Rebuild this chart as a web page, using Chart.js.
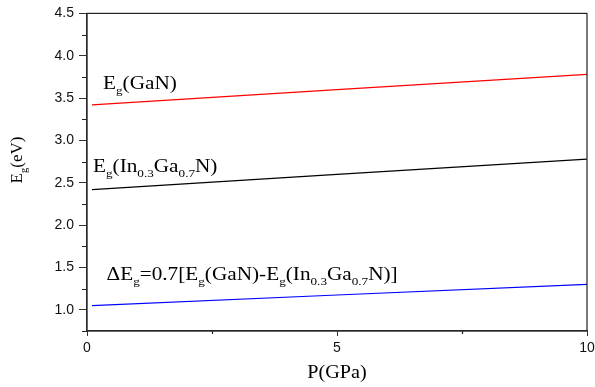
<!DOCTYPE html>
<html>
<head>
<meta charset="utf-8">
<script src="https://cdn.jsdelivr.net/npm/chart.js@4.4.0/dist/chart.umd.min.js"></script>
<style>
  html, body { margin: 0; padding: 0; background: #fff; }
  #wrap { width: 595px; height: 387px; }
</style>
</head>
<body>
<div id="wrap"><canvas id="myChart" width="595" height="387"></canvas></div>
<script>
// valeurs
const pressure = [0.1, 5, 10];
const egGaN = [3.42, 3.60, 3.78];
const egInGaN = [2.42, 2.60, 2.78];
const deltaEg = [1.05, 1.175, 1.30];

const xTicks = [0, 5, 10];
const yTicks = [1.0, 1.5, 2.0, 2.5, 3.0, 3.5, 4.0, 4.5];

const serif = "'Liberation Serif', 'Times New Roman', serif";
const sans = "'Liberation Sans', Arial, sans-serif";
const stretch = 1.18; // le texte de l'original est un peu étiré

function pts(ys) {
  return pressure.map((p, i) => ({ x: p, y: ys[i] }));
}

// texte avec indices (parts: [texte, estIndice])
function drawRich(ctx, parts, x, y, size) {
  let cx = x;
  parts.forEach(([t, sub]) => {
    const s = sub ? size * 0.62 : size;
    ctx.font = s + 'px ' + serif;
    ctx.fillText(t, cx, sub ? y + size * 0.28 : y);
    cx += ctx.measureText(t).width;
  });
  return cx - x;
}
function richWidth(ctx, parts, size) {
  let w = 0;
  parts.forEach(([t, sub]) => {
    ctx.font = (sub ? size * 0.62 : size) + 'px ' + serif;
    w += ctx.measureText(t).width;
  });
  return w;
}

const labels = [
  { x: 0.32, y: 3.605, parts: [['E'], ['g', 1], ['(GaN)']] },
  { x: 0.12, y: 2.628, parts: [['E'], ['g', 1], ['(In'], ['0.3', 1], ['Ga'], ['0.7', 1], ['N)']] },
  { x: 0.39, y: 1.357, parts: [['\u0394E'], ['g', 1], ['=0.7[E'], ['g', 1], ['(GaN)-E'], ['g', 1], ['(In'], ['0.3', 1], ['Ga'], ['0.7', 1], ['N)]']] }
];

const decor = {
  id: 'decor',
  afterDraw(chart) {
    const ctx = chart.ctx;
    const a = chart.chartArea;
    const xs = chart.scales.x, ys = chart.scales.y;
    ctx.save();
    // cadre
    ctx.strokeStyle = '#222';
    ctx.lineWidth = 1.2;
    ctx.strokeRect(a.left, a.top, a.right - a.left, a.bottom - a.top);
    // graduations mineures
    ctx.beginPath();
    for (let v = 0.75; v <= 4.5; v += 0.5) {
      const py = Math.round(ys.getPixelForValue(v)) + 0.5;
      ctx.moveTo(a.left - 5, py); ctx.lineTo(a.left, py);
    }
    [2.5, 7.5].forEach(v => {
      const px = Math.round(xs.getPixelForValue(v)) + 0.5;
      ctx.moveTo(px, a.bottom); ctx.lineTo(px, a.bottom + 3);
    });
    ctx.stroke();
    // annotations
    ctx.fillStyle = '#000';
    ctx.textBaseline = 'alphabetic';
    labels.forEach(l => {
      const px = xs.getPixelForValue(l.x), py = ys.getPixelForValue(l.y);
      ctx.save();
      ctx.translate(px, py);
      ctx.scale(stretch, 1);
      drawRich(ctx, l.parts, 0, 0, 18);
      ctx.restore();
    });
    // titre axe x
    ctx.save();
    ctx.font = '18px ' + serif;
    ctx.textAlign = 'center';
    ctx.translate((a.left + a.right) / 2, 378);
    ctx.scale(1.12, 1);
    ctx.fillText('P(GPa)', 0, 0);
    ctx.restore();
    // titre axe y
    const yt = [['E'], ['g', 1], ['(eV)']];
    const w = richWidth(ctx, yt, 17);
    ctx.translate(22, 160);
    ctx.rotate(-Math.PI / 2);
    drawRich(ctx, yt, -w / 2, 0, 17);
    ctx.restore();
  }
};

const ctx = document.getElementById('myChart').getContext('2d');
new Chart(ctx, {
  type: 'line',
  data: {
    datasets: [
      { label: 'Eg(GaN)', data: pts(egGaN), borderColor: '#ff0000', borderWidth: 1.2, pointRadius: 0, tension: 0 },
      { label: 'Eg(In0.3Ga0.7N)', data: pts(egInGaN), borderColor: '#000000', borderWidth: 1.2, pointRadius: 0, tension: 0 },
      { label: 'dEg', data: pts(deltaEg), borderColor: '#0000ff', borderWidth: 1.2, pointRadius: 0, tension: 0 }
    ]
  },
  options: {
    responsive: false,
    animation: false,
    layout: { padding: { top: 9, right: 0, left: 0, bottom: 0 } },
    plugins: { legend: { display: false }, tooltip: { enabled: false } },
    scales: {
      x: {
        type: 'linear',
        min: 0, max: 10,
        afterBuildTicks: s => { s.ticks = xTicks.map(v => ({ value: v })); },
        afterFit: s => { s.height = 56; s.paddingRight = 8; },
        grid: { drawOnChartArea: false, tickLength: 5, color: '#333' },
        border: { color: '#333', width: 1.2 },
        ticks: { color: '#111', font: { family: sans, size: 14 }, padding: 4 }
      },
      y: {
        min: 0.75, max: 4.5,
        afterBuildTicks: s => { s.ticks = yTicks.map(v => ({ value: v })); },
        afterFit: s => { s.width = 87; },
        grid: { drawOnChartArea: false, tickLength: 8, color: '#333' },
        border: { color: '#333', width: 1.2 },
        ticks: { color: '#111', font: { family: sans, size: 14 }, padding: 5,
                 callback: v => v.toFixed(1) }
      }
    }
  },
  plugins: [decor]
});
</script>
</body>
</html>
